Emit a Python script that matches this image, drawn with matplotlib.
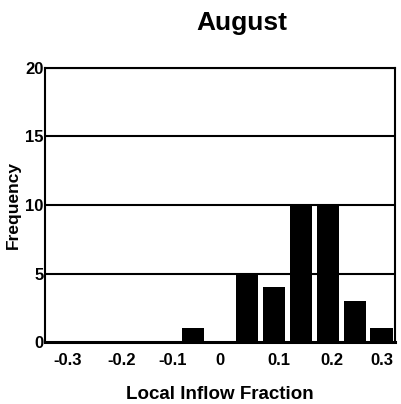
import matplotlib
matplotlib.use("Agg")
import matplotlib.pyplot as plt
import numpy as np

# Data: histogram counts per bin (13 bins)
counts = [0, 0, 0, 0, 0, 1, 0, 5, 4, 10, 10, 3, 1]
tick_labels = ["-0.3", "-0.2", "-0.1", "0", "0.1", "0.2", "0.3"]
tick_positions = [0.85, 2.85, 4.75, 6.5, 8.7, 10.65, 12.5]
y_ticks = [0, 5, 10, 15, 20]

plt.rcParams['font.family'] = ['Liberation Sans', 'DejaVu Sans']

fig = plt.figure(figsize=(4.01, 4.04), dpi=100)
ax = fig.add_axes([0.112, 0.153, 0.873, 0.679])

x = np.arange(len(counts)) + 0.5
ax.bar(x, counts, width=0.82, color="black", zorder=3)

ax.set_xlim(0, len(counts))
ax.set_ylim(0, 20)
ax.set_yticks(y_ticks)
ax.set_yticklabels([str(v) for v in y_ticks], fontsize=12, fontweight="bold")
ax.set_xticks(tick_positions)
ax.set_xticklabels(tick_labels, fontsize=12, fontweight="bold")
ax.tick_params(axis='x', length=0, pad=8)
ax.tick_params(axis='y', length=0, pad=1)

for v in y_ticks[1:]:
    ax.axhline(v, color="black", lw=1.5, zorder=2)

for s in ax.spines.values():
    s.set_linewidth(1.5)
ax.spines['bottom'].set_linewidth(2.2)

ax.set_xlabel("Local Inflow Fraction", fontsize=13.5, fontweight="bold", labelpad=13)
ax.set_ylabel("Frequency", fontsize=12.5, fontweight="bold", labelpad=3)
fig.text(0.604, 0.942, "August", fontsize=19, fontweight="bold", ha="center", va="center")

fig.savefig("out.png", dpi=100)
